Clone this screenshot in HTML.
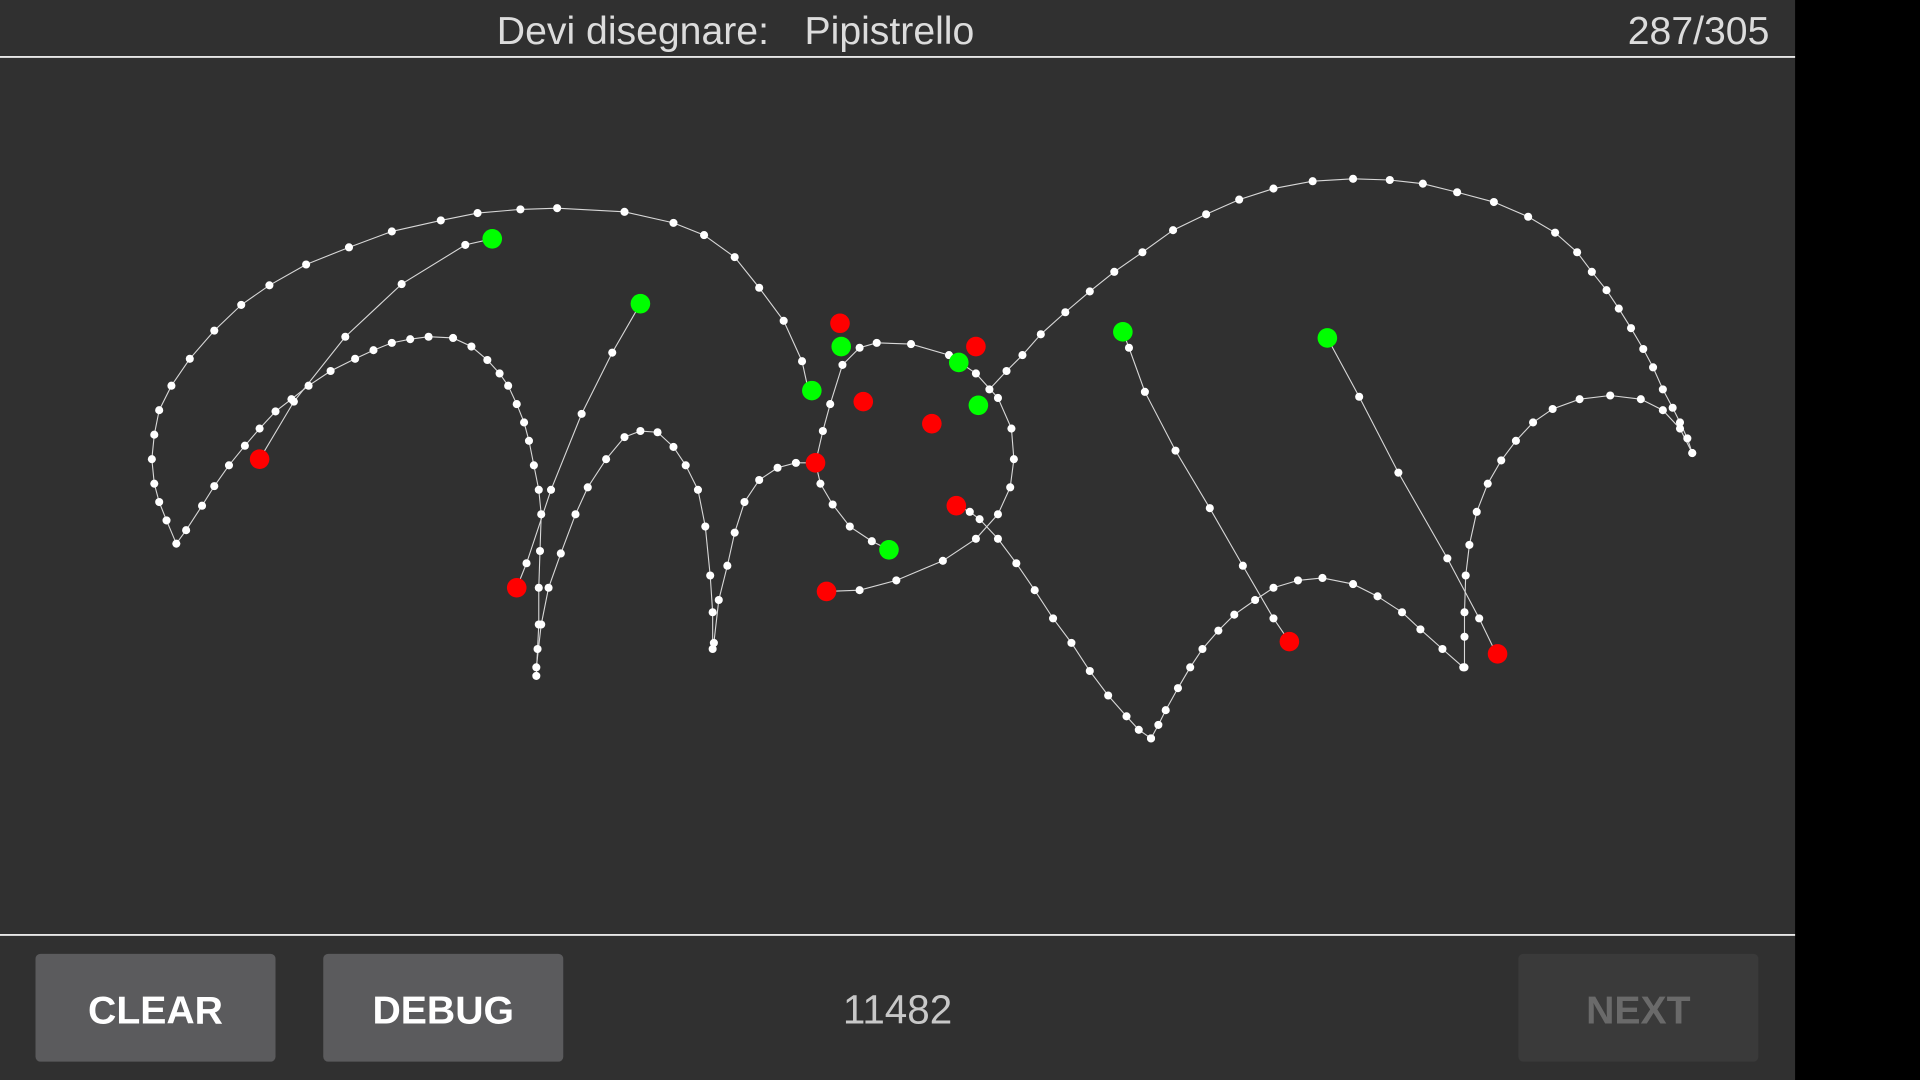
<!DOCTYPE html>
<html><head><meta charset="utf-8"><style>
html,body{margin:0;padding:0;background:#000;width:1920px;height:1080px;overflow:hidden}
svg{display:block}
text{font-family:"Liberation Sans",sans-serif}
</style></head><body>
<svg id="s" width="1920" height="1080" viewBox="0 0 1568 882">
<rect x="0" y="0" width="1568" height="882" fill="#000"/>
<rect x="0" y="0" width="1466" height="882" fill="#303030"/>
<text x="628" y="36" text-anchor="end" font-size="32" fill="#dcdcdc">Devi disegnare:</text>
<text x="657" y="36" text-anchor="start" font-size="32" fill="#dcdcdc">Pipistrello</text>
<text x="1445" y="36" text-anchor="end" font-size="32" fill="#dcdcdc">287/305</text>
<line x1="0" y1="46.5" x2="1466" y2="46.5" stroke="#e8e8e8" stroke-width="1.5"/>
<line x1="0" y1="763.5" x2="1466" y2="763.5" stroke="#e8e8e8" stroke-width="1.5"/>
<g id="canvas"></g>
<g><rect x="29" y="779" width="196" height="88" rx="4" fill="#5b5b5d"/><text x="127" y="836" text-anchor="middle" font-size="32" font-weight="bold" fill="#fff">CLEAR</text></g>
<g><rect x="264" y="779" width="196" height="88" rx="4" fill="#5b5b5d"/><text x="362" y="836" text-anchor="middle" font-size="32" font-weight="bold" fill="#fff">DEBUG</text></g>
<text x="733" y="836" text-anchor="middle" font-size="33" fill="#c8c8c8">11482</text>
<g><rect x="1240" y="779" width="196" height="88" rx="4" fill="#3a3a3a"/><text x="1338" y="836" text-anchor="middle" font-size="32" font-weight="bold" fill="#6a6a6a">NEXT</text></g>
</svg>
<script>
const strokeLeftWing=[[660,318],[655,295],[640,262],[620,235],[600,210],[575,192],[550,182],[510,173],[455,170],[425,171],[390,174],[360,180],[320,189],[285,202],[250,216],[220,233],[197,249],[175,270],[155,293],[140,315],[130,335],[126,355],[124,375],[126,395],[130,410],[136,425],[144,444],[152,433],[165,413],[175,397],[187,380],[200,364],[212,350],[225,336],[238,326],[252,315],[270,303],[290,293],[305,286],[320,280],[335,277],[350,275],[370,276],[385,283],[398,294],[408,305],[415,315],[422,330],[428,345],[432,360],[436,380],[440,400],[442,420],[441,450],[440,480],[440,510],[439,530],[438,552]];
const strokeB=[[402,195],[380,200],[328,232],[282,275],[240,328],[212,375]];
const strokeC=[[523,248],[500,288],[475,338],[450,400],[430,460],[422,480]];
const strokeD=[[438,545],[442,510],[448,480],[458,452],[470,420],[480,398],[495,375],[510,357],[523,352],[537,353],[550,365],[560,380],[570,400],[576,430],[580,470],[582,500],[582,530]];
const strokeE=[[583,525],[587,490],[594,462],[600,435],[608,410],[620,392],[635,382],[650,378],[667,378]];
const strokeHead=[[666,378],[672,352],[678,330],[688,298],[702,284],[716,280],[744,281],[775,290],[797,305],[815,325],[826,350],[828,375],[825,398],[815,420],[797,440],[770,458],[732,474],[702,482],[675,483]];
const strokeHeadLow=[[666,378],[670,395],[680,412],[694,430],[712,442],[726,449]];
const strokeRightWing=[[808,318],[822,303],[835,290],[850,273],[870,255],[890,238],[910,222],[933,206],[958,188],[985,175],[1012,163],[1040,154],[1072,148],[1105,146],[1135,147],[1162,150],[1190,157],[1220,165],[1248,177],[1270,190],[1288,206],[1300,222],[1312,237],[1322,252],[1332,268],[1342,285],[1350,300],[1358,318],[1366,333],[1372,345],[1378,358],[1382,370]];
const strokeI=[[1382,370],[1372,350],[1358,335],[1340,326],[1315,323],[1290,326],[1268,334],[1252,345],[1238,360],[1226,376],[1215,395],[1206,418],[1200,445],[1197,470],[1196,500],[1196,520],[1196,545]];
const strokeJ=[[1195,545],[1178,530],[1160,514],[1145,500],[1125,487],[1105,477],[1080,472],[1060,474],[1040,480],[1025,490],[1008,502],[995,515],[982,530],[972,545],[962,562],[952,580],[946,592],[940,603]];
const strokeK=[[940,603],[930,596],[920,585],[905,568],[890,548],[875,525],[860,505],[845,482],[830,460],[815,440],[800,424],[792,418],[782,413]];
const strokeL=[[917,271],[922,284],[935,320],[960,368],[988,415],[1015,462],[1040,505],[1053,524]];
const strokeM=[[1084,276],[1110,324],[1142,386],[1182,456],[1208,505],[1222,534]];
const redPoints=[[686,264],[797,283],[705,328],[761,346],[666,378],[781,413],[675,483],[212,375],[422,480],[1053,524],[1223,534]];
const greenPoints=[[402,195],[523,248],[687,283],[783,296],[663,319],[799,331],[726,449],[917,271],[1084,276]];
const strokes=[strokeLeftWing,strokeB,strokeC,strokeD,strokeE,strokeHead,strokeHeadLow,strokeRightWing,strokeI,strokeJ,strokeK,strokeL,strokeM];
const NS="http://www.w3.org/2000/svg";
const g=document.getElementById('canvas');
strokes.forEach(function(st){
  const p=document.createElementNS(NS,'polyline');
  
  
  p.setAttribute('points',st.map(q=>q.join(',')).join(' '));
  p.setAttribute('fill','none');p.setAttribute('stroke','#d8d8d8');p.setAttribute('stroke-width','0.9');
  g.appendChild(p);
});
strokes.forEach(function(st){
  st.forEach(function(q){
    const c=document.createElementNS(NS,'circle');
    
    
    c.setAttribute('cx',q[0]);c.setAttribute('cy',q[1]);c.setAttribute('r','3.3');c.setAttribute('fill','#fff');
    g.appendChild(c);
  });
});
function big(arr,col,name){
  arr.forEach(function(q){
    const c=document.createElementNS(NS,'circle');
    
    
    c.setAttribute('cx',q[0]);c.setAttribute('cy',q[1]);c.setAttribute('r','8');c.setAttribute('fill',col);
    g.appendChild(c);
  });
}
big(redPoints,'#ff0000','end-point');
big(greenPoints,'#00ff00','start-point');
</script>
</body></html>
